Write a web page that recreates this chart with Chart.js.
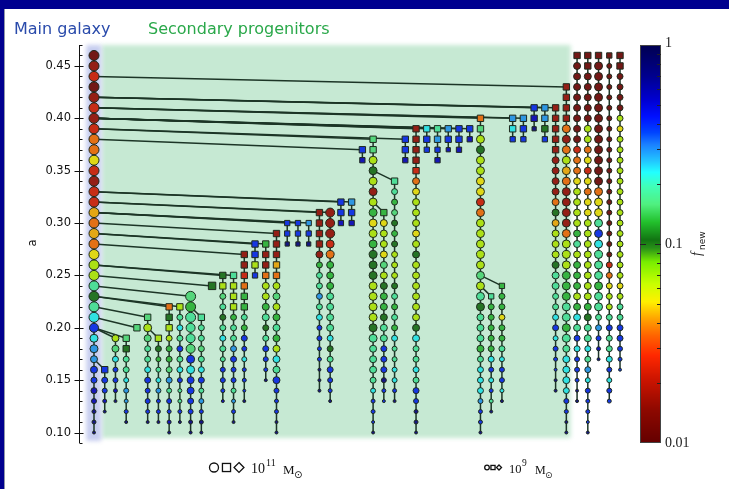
<!DOCTYPE html>
<html>
<head>
<meta charset="utf-8">
<script src="https://cdn.jsdelivr.net/npm/chart.js@4.4.0/dist/chart.umd.min.js"></script>
<style>
  html, body { margin: 0; padding: 0; background: #fff; }
  canvas { display: block; }
</style>
</head>
<body>
<canvas id="myChart" width="729" height="489"></canvas>
<script>
// Merger tree. One column per progenitor branch (column 0 = main galaxy).
// Each branch is listed from its latest snapshot (top a) downwards, a step of 0.01.

const branchTop = [0.46, 0.16, 0.19, 0.19, 0.20, 0.21, 0.19, 0.22, 0.22, 0.23,
                   0.21, 0.24, 0.25, 0.25, 0.27, 0.28, 0.28, 0.29, 0.30, 0.30,
                   0.30, 0.31, 0.31, 0.32, 0.32, 0.37, 0.38, 0.31, 0.34, 0.38,
                   0.39, 0.39, 0.39, 0.39, 0.39, 0.39, 0.40, 0.23, 0.24, 0.40,
                   0.40, 0.41, 0.41, 0.41, 0.43, 0.46, 0.46, 0.46, 0.46, 0.46];

// branch it merges into (at top + 0.01), -1 = not merging
const branchParent = [-1, 0, 0, 0, 0, 0, 5, 0, 0, 0,
                      9, 0, 0, 0, 0, 0, 0, 0, 0, 0,
                      0, 0, 0, 0, 0, 0, 0, 26, 26, 0,
                      0, 0, 0, 0, 0, 0, 0, 36, 36, 0,
                      0, 0, 0, 0, 0, -1, -1, -1, -1, -1];

// number of snapshots drawn as squares at the top of each branch
const branchSquares = [0, 1, 0, 2, 1, 1, 1, 3, 1, 0,
                       1, 1, 2, 4, 6, 4, 4, 5, 3, 3,
                       3, 4, 0, 3, 3, 2, 2, 1, 1, 3,
                       5, 3, 4, 3, 3, 2, 2, 1, 1, 3,
                       3, 3, 4, 5, 4, 1, 2, 1, 1, 2];

// f_new code per snapshot (see fnewCodes)
const branchFnew = [
  "RdrRdrdrooyrdrrYoYoyllagacBcbbBBNNnnn",
  "BBBNn", "lhcBBNn", "hgaacbbBn", "h", "hlhaacBBBBn",
  "lgmacbBBn", "ogllmmhbaBBNn", "lacaBacBaaBn", "hmaaahBcBBBBnn",
  "aaahacBabBnn", "g", "glhagacaaBBBN", "alllmaabBBBabBn",
  "ddrommamBBcBBBn", "BBlB", "mddollmagaBBBn", "dddYolhlmamlcaBBBBnn",
  "BBn", "BBn", "bBn", "dddddmaabacBBBBnnn", "dddrommmaaaacgaBBBn",
  "BBN", "bBN", "BN", "hhlgldlmylmgggllllgaaaaacBBBn",
  "myllyhlgmmgaaBBBnBB", "aamhgmglllgamamcaaccBn", "BBN",
  "ddddroylllylgllllllgcaacaBBnnn", "cBB", "abBN", "bBN", "BBN", "BN",
  "ohlgllyyrolllllhlagaaamacccbBBn", "ammmmmcBcBan", "mmmymmacBBcn",
  "bcB", "bBB", "BNn", "bbgB",
  "dddddddddogYlllgaaaacBcBBBnn",
  "ddddodolYoddddolllmmmaamaaccccBBnn",
  "RRRRRRRRRrooyllllmalmmmlmcaBcBBBnn",
  "RRRRRRRlloyryoyyllllllllmgaacabcBBBBn",
  "RRRRRRRRRRRRRoyyaBcaaamaaabBNn",
  "RRRRRRRRRRRRRRRRRRRRroyllaBaacBcBB",
  "RRRRRRlyllllllllllllllylaaBBBBB"
];

// marker size code per snapshot (base 36, half = radius in px)
const branchMass = [
  "aaaaaaaaaaaaaaaaaaaaaaaaaa98877665443",
  "66543", "7765543", "666655443", "6", "68766665543",
  "665555443", "6666666655443", "666666654443", "aaa99988776543",
  "666666655443", "7", "6666666655543", "666666666555443",
  "666666666554433", "6665", "66667777666543", "66666777777777754433",
  "554", "554", "554", "666676666665544333", "9998877777776666543",
  "665", "665", "65", "66888888888888888888777654433",
  "6777777777777666543", "6666666666666666555543", "665",
  "666667777777777777777666665443", "665", "6655", "664", "665", "65",
  "6688888888888888888777766665443", "566666655443", "566666655543",
  "665", "665", "664", "6665",
  "6666677777777777776666554333",
  "6666888888888888888888888777765433",
  "6777777777777777777777777776655433",
  "6677777777777777777777777777666554433",
  "688888888888888888888888866543",
  "5555555555555555555566666666665554",
  "6666666666666666666666666666543"
];

const fnewCodes = {
  R: 0.0115, d: 0.016, r: 0.023, o: 0.036, Y: 0.044, y: 0.052, l: 0.066,
  g: 0.105, m: 0.132, h: 0.158, a: 0.18, c: 0.23, b: 0.29, B: 0.40, N: 0.55, n: 0.72
};

const aTicks = [0.10, 0.15, 0.20, 0.25, 0.30, 0.35, 0.40, 0.45];
const cbarTicks = [1, 0.1, 0.01];
const cbarMinor = [0.02, 0.03, 0.04, 0.05, 0.06, 0.07, 0.08, 0.09,
                   0.2, 0.3, 0.4, 0.5, 0.6, 0.7, 0.8, 0.9];

// colour map of the f_new bar (position 0 = 0.01, 1 = 1)
const cmap = [[0, '#640000'], [0.08, '#8c0800'], [0.16, '#cc1400'], [0.22, '#ff2800'],
  [0.27, '#ff6400'], [0.31, '#ffa000'], [0.355, '#fff000'], [0.40, '#c8ff00'],
  [0.455, '#78ee00'], [0.49, '#289018'], [0.51, '#127412'], [0.555, '#22c02c'],
  [0.60, '#50f080'], [0.645, '#40ffb8'], [0.68, '#22ffff'], [0.71, '#22c4ff'],
  [0.75, '#1a80ff'], [0.78, '#0044ff'], [0.82, '#0010ff'], [0.86, '#0000d4'],
  [0.92, '#000090'], [1, '#000050']];

function hexRgb(h) {
  return [parseInt(h.slice(1, 3), 16), parseInt(h.slice(3, 5), 16), parseInt(h.slice(5, 7), 16)];
}

function cmapRgb(t) {
  t = Math.max(0, Math.min(1, t));
  for (let i = 1; i < cmap.length; i++) {
    if (t <= cmap[i][0]) {
      const a = hexRgb(cmap[i - 1][1]), b = hexRgb(cmap[i][1]);
      const u = (t - cmap[i - 1][0]) / (cmap[i][0] - cmap[i - 1][0]);
      return a.map((v, k) => v + (b[k] - v) * u);
    }
  }
  return hexRgb(cmap[cmap.length - 1][1]);
}

function rgbStr(c) {
  return `rgb(${Math.round(c[0])}, ${Math.round(c[1])}, ${Math.round(c[2])})`;
}

// markers look a little duller than the bar
function fnewColor(f) {
  const c = cmapRgb((Math.log10(f) + 2) / 2);
  return rgbStr(c.map(v => v * 0.8 + 22));
}

const lineColor = '#1c3526';
const datasets = [];

branchTop.forEach((top, i) => {
  const codes = branchFnew[i];
  const mass = branchMass[i];
  if (codes.length !== mass.length) console.warn('length mismatch in branch', i, codes.length, mass.length);
  const pts = [], colors = [], radii = [], styles = [];
  for (let k = 0; k < codes.length; k++) {
    pts.push({ x: i, y: Math.round((top - k * 0.01) * 100) / 100 });
    colors.push(fnewColor(fnewCodes[codes[k]]));
    const r = parseInt(mass[k] || mass[mass.length - 1], 36) / 2;
    const sq = k < branchSquares[i];
    radii.push(sq ? r * 1.5 : r);
    styles.push(sq ? 'rect' : 'circle');
  }
  datasets.push({
    data: pts,
    showLine: true,
    borderColor: lineColor,
    borderWidth: 1.5,
    pointBackgroundColor: colors,
    pointBorderColor: '#1e2a1e',
    pointBorderWidth: 1,
    pointRadius: radii,
    pointHoverRadius: radii,
    pointStyle: styles,
    order: 1,
    clip: false
  });

  // merge line to the descendant branch
  if (branchParent[i] >= 0) {
    datasets.push({
      data: [{ x: branchParent[i], y: Math.round((top + 0.01) * 100) / 100 }, { x: i, y: top }],
      showLine: true,
      borderColor: lineColor,
      borderWidth: 1.5,
      pointRadius: 0,
      pointHoverRadius: 0,
      order: 2,
      clip: false
    });
  }
});

const backdrop = {
  id: 'backdrop',
  beforeDraw(chart) {
    const ctx = chart.ctx;
    const xs = chart.scales.x, ys = chart.scales.y;
    ctx.save();
    ctx.fillStyle = '#fff';
    ctx.fillRect(0, 0, chart.width, chart.height);
    ctx.fillStyle = '#00008f';
    ctx.fillRect(0, 0, chart.width, 9);
    ctx.fillRect(0, 0, 4, chart.height);
    ctx.fillStyle = '#9098a8';
    ctx.fillRect(4, 9, 1, chart.height - 9);

    const top = ys.getPixelForValue(0.47);
    const bot = ys.getPixelForValue(0.0948);
    ctx.filter = 'blur(2px)';
    ctx.fillStyle = '#c6e9d3';
    const gx0 = xs.getPixelForValue(0.72), gx1 = xs.getPixelForValue(44.4);
    ctx.fillRect(gx0, top, gx1 - gx0, bot - top);
    ctx.fillStyle = '#c6cdef';
    const bx0 = xs.getPixelForValue(-0.72), bx1 = xs.getPixelForValue(0.68);
    ctx.fillRect(bx0, top, bx1 - bx0, ys.getPixelForValue(0.092) - top);
    ctx.restore();
  },
  afterDraw(chart) {
    const ctx = chart.ctx;
    const ys = chart.scales.y;
    ctx.save();

    // titles
    ctx.font = '16px "DejaVu Sans"';
    ctx.textBaseline = 'alphabetic';
    ctx.fillStyle = '#2a4bab';
    ctx.fillText('Main galaxy', 14, 34);
    ctx.fillStyle = '#2aa84a';
    ctx.fillText('Secondary progenitors', 148, 34);

    // y axis
    const ax = 79.5;
    ctx.strokeStyle = '#111';
    ctx.lineWidth = 1;
    ctx.beginPath();
    ctx.moveTo(ax, ys.getPixelForValue(0.47));
    ctx.lineTo(ax, ys.getPixelForValue(0.09));
    for (let v = 9; v <= 47; v++) {
      const y = Math.round(ys.getPixelForValue(v / 100)) + 0.5;
      ctx.moveTo(ax, y);
      ctx.lineTo(ax + 3, y);
    }
    aTicks.forEach(v => {
      const y = Math.round(ys.getPixelForValue(v)) + 0.5;
      ctx.moveTo(ax - 5, y);
      ctx.lineTo(ax + 4, y);
    });
    ctx.stroke();
    ctx.fillStyle = '#111';
    ctx.font = '11.5px "DejaVu Sans"';
    ctx.textAlign = 'right';
    ctx.textBaseline = 'middle';
    aTicks.forEach(v => ctx.fillText(v.toFixed(2), 71, ys.getPixelForValue(v)));
    ctx.save();
    ctx.translate(33, 243);
    ctx.rotate(-Math.PI / 2);
    ctx.textAlign = 'center';
    ctx.fillText('a', 0, 0);
    ctx.restore();

    // colour bar
    const cx = 640, cw = 21, cy0 = 45, cy1 = 443;
    const cbY = f => cy1 - (Math.log10(f) + 2) / 2 * (cy1 - cy0);
    for (let y = cy0; y < cy1; y++) {
      ctx.fillStyle = rgbStr(cmapRgb((cy1 - (y + 0.5)) / (cy1 - cy0)));
      ctx.fillRect(cx, y, cw, 1);
    }
    ctx.strokeStyle = '#444';
    ctx.strokeRect(cx + 0.5, cy0 + 0.5, cw - 1, cy1 - cy0 - 1);
    ctx.strokeStyle = '#222';
    ctx.beginPath();
    cbarMinor.forEach(f => {
      const y = Math.round(cbY(f)) + 0.5;
      ctx.moveTo(cx + cw - 4, y);
      ctx.lineTo(cx + cw, y);
    });
    const y01 = Math.round(cbY(0.1)) + 0.5;
    ctx.moveTo(cx, y01); ctx.lineTo(cx + 6, y01);
    ctx.moveTo(cx + cw - 6, y01); ctx.lineTo(cx + cw, y01);
    ctx.stroke();
    ctx.fillStyle = '#222';
    ctx.font = '14px "Liberation Serif"';
    ctx.textAlign = 'left';
    ctx.textBaseline = 'middle';
    cbarTicks.forEach(f => ctx.fillText(String(f), 665, cbY(f) + (f === 1 ? -2 : 0)));
    ctx.save();
    ctx.translate(701, 244);
    ctx.rotate(-Math.PI / 2);
    ctx.textAlign = 'left';
    ctx.textBaseline = 'alphabetic';
    ctx.font = 'italic 14px "Liberation Serif"';
    ctx.fillText('f', -12, 0);
    ctx.font = '9px "DejaVu Sans"';
    ctx.fillText('new', -6, 4);
    ctx.restore();

    // mass legend
    ctx.strokeStyle = '#111';
    ctx.lineWidth = 1.3;
    const glyphs = (x0, s, gap) => {
      ctx.beginPath();
      ctx.arc(x0, 467.5, s, 0, Math.PI * 2);
      ctx.stroke();
      ctx.strokeRect(x0 + gap - s * 0.9, 467.5 - s * 0.9, s * 1.8, s * 1.8);
      ctx.beginPath();
      const dx = x0 + 2 * gap;
      ctx.moveTo(dx, 467.5 - s * 1.1);
      ctx.lineTo(dx + s * 1.1, 467.5);
      ctx.lineTo(dx, 467.5 + s * 1.1);
      ctx.lineTo(dx - s * 1.1, 467.5);
      ctx.closePath();
      ctx.stroke();
    };
    glyphs(214, 4.5, 12.5);
    glyphs(487, 2.3, 6);
    ctx.fillStyle = '#111';
    ctx.textBaseline = 'alphabetic';
    ctx.font = '14px "Liberation Serif"';
    ctx.fillText('10', 251, 473);
    ctx.font = '10px "Liberation Serif"';
    ctx.fillText('11', 266, 466);
    ctx.font = '13px "Liberation Serif"';
    ctx.fillText('M', 283, 474);
    ctx.font = '10px "DejaVu Sans"';
    ctx.fillText('\u2299', 294, 478);
    ctx.font = '12.5px "Liberation Serif"';
    ctx.fillText('10', 509, 473);
    ctx.font = '9.5px "Liberation Serif"';
    ctx.fillText('9', 522, 466);
    ctx.font = '12px "Liberation Serif"';
    ctx.fillText('M', 535, 474);
    ctx.font = '9px "DejaVu Sans"';
    ctx.fillText('\u2299', 545, 478);

    ctx.restore();
  }
};

new Chart(document.getElementById('myChart'), {
  type: 'scatter',
  data: { datasets: datasets },
  options: {
    responsive: false,
    animation: false,
    devicePixelRatio: 1,
    layout: { padding: { left: 79, right: 99, top: 45, bottom: 46 } },
    scales: {
      x: { type: 'linear', display: false, min: -1.397, max: 49.93 },
      y: { type: 'linear', display: false, min: 0.09, max: 0.47 }
    },
    plugins: {
      legend: { display: false },
      tooltip: { enabled: false }
    },
    elements: { line: { tension: 0 } }
  },
  plugins: [backdrop]
});
</script>
</body>
</html>
